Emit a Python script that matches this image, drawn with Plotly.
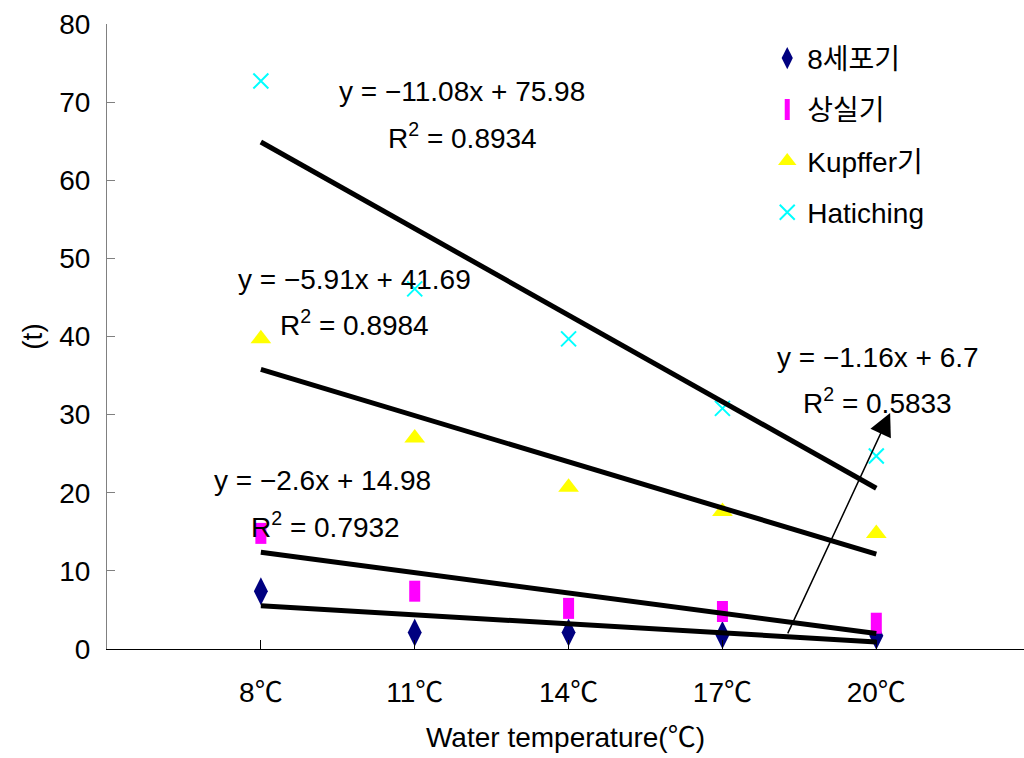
import plotly.graph_objects as go

# Water temperature groups
temps = ["8℃", "11℃", "14℃", "17℃", "20℃"]
xpos = [1, 2, 3, 4, 5]

# Time (t) for each developmental stage
eight_cell = [7.4, 2.1, 2.1, 1.8, 1.7]
morula = [14.8, 7.4, 5.2, 4.8, 3.3]
kupffer = [39.7, 27.0, 20.7, 17.6, 14.8]
hatching = [72.7, 46.1, 39.7, 30.8, 24.7]

# Linear trend fits (slope, intercept, R²)
fit_hatching = (-11.08, 75.98, 0.8934)
fit_kupffer = (-5.91, 41.69, 0.8984)
fit_morula = (-2.6, 14.98, 0.7932)
fit_eight = (-1.16, 6.7, 0.5833)

y_ticks = [0, 10, 20, 30, 40, 50, 60, 70, 80]

FONT = "Liberation Sans, Arial, Noto Sans CJK KR, sans-serif"
FS = 28

fig = go.Figure()

series = [
    ("8세포기", eight_cell, dict(symbol="diamond-tall", size=20, color="#000080")),
    ("상실기", morula, dict(symbol="line-ns", size=15, color="#FF00FF",
                          line=dict(color="#FF00FF", width=11))),
    ("Kupffer기", kupffer, dict(symbol="triangle-up", size=18, color="#FFFF00")),
    ("Hatiching", hatching, dict(symbol="x-thin", size=15, color="#00FFFF",
                               line=dict(color="#00FFFF", width=2))),
]

for i, (name, vals, mk) in enumerate(series):
    fig.add_trace(go.Scatter(
        x=xpos, y=vals, mode="markers", name=name, marker=mk,
        legendgroup=f"g{i}", cliponaxis=False,
    ))

# Trend lines over the temperature span
for slope, icpt, _ in [fit_hatching, fit_kupffer, fit_morula, fit_eight]:
    xs = [xpos[0], xpos[-1]]
    fig.add_trace(go.Scatter(
        x=xs, y=[slope * v + icpt for v in xs], mode="lines",
        line=dict(color="black", width=5), showlegend=False, hoverinfo="skip",
    ))


def eq_text(fit):
    slope, icpt, r2 = fit
    return f"y = −{abs(slope):g}x + {icpt:g}", f"R<sup>2</sup> = {r2:.4f}"


labels = [
    (fit_hatching, 2.31, 71.4, 2.31, 65.7),
    (fit_kupffer, 1.61, 47.3, 1.61, 41.7),
    (fit_morula, 1.40, 21.6, 1.42, 15.9),
    (fit_eight, 5.01, 37.3, 5.01, 31.7),
]
for fit, x1, y1, x2, y2 in labels:
    t1, t2 = eq_text(fit)
    fig.add_annotation(x=x1, y=y1, text=t1, showarrow=False,
                       font=dict(size=FS, color="black", family=FONT))
    fig.add_annotation(x=x2, y=y2, text=t2, showarrow=False,
                       font=dict(size=FS, color="black", family=FONT))

# Pointer from the lowest trend line to its equation
fig.add_annotation(x=5.09, y=30.2, ax=4.42, ay=1.8, xref="x", yref="y",
                   axref="x", ayref="y", text="", showarrow=True,
                   arrowhead=2, arrowsize=3, arrowwidth=1.5, arrowcolor="black")

fig.update_layout(
    width=1024, height=758,
    margin=dict(l=107, r=0, t=24, b=109),
    plot_bgcolor="white", paper_bgcolor="white",
    font=dict(family=FONT, size=FS, color="black"),
    showlegend=True,
    legend=dict(x=0.72, y=0.985, xanchor="left", yanchor="top",
                font=dict(size=FS, family=FONT), tracegroupgap=12,
                bgcolor="rgba(0,0,0,0)", itemwidth=30),
    xaxis=dict(range=[0, 5.96], tickvals=xpos, ticktext=temps,
               showline=True, linecolor="black", linewidth=1,
               ticks="inside", ticklen=9, tickcolor="black",
               showgrid=False, zeroline=False, ticklabelstandoff=18,
               tickfont=dict(size=FS, family=FONT),
               title=dict(text="Water temperature(℃)", standoff=20,
                          font=dict(size=FS, family=FONT))),
    yaxis=dict(range=[0, 80], tickvals=y_ticks,
               showline=True, linecolor="#808080", linewidth=1,
               ticks="inside", ticklen=8, tickcolor="#808080",
               showgrid=False, zeroline=False, ticklabelstandoff=10,
               tickfont=dict(size=FS, family=FONT),
               title=dict(text="(t)", standoff=8,
                          font=dict(size=FS, family=FONT))),
)

fig.write_html("out.html")
